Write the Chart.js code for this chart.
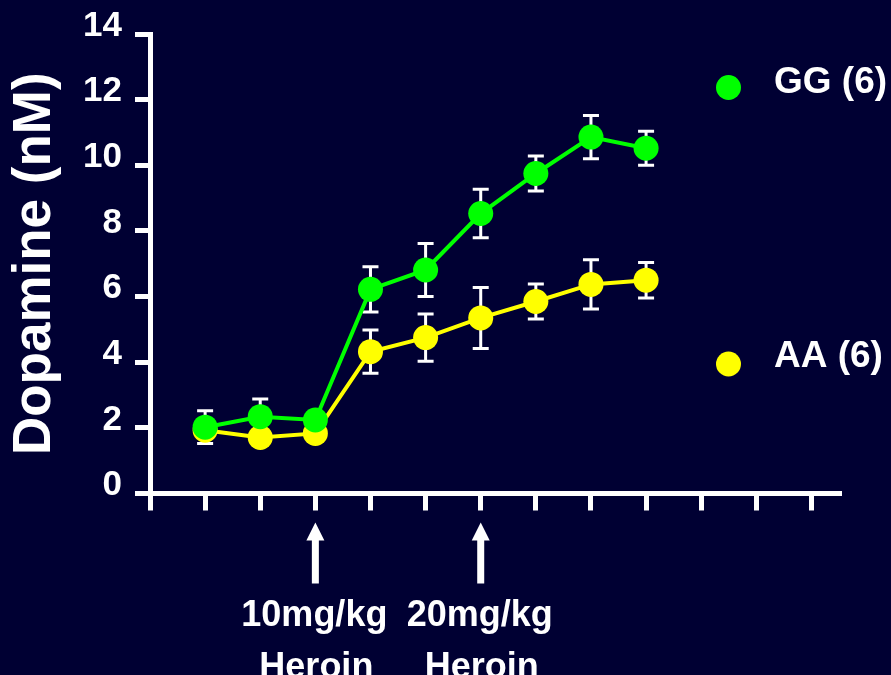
<!DOCTYPE html>
<html>
<head>
<meta charset="utf-8">
<title>Dopamine (nM)</title>
<script src="https://cdn.jsdelivr.net/npm/chart.js@4"></script>
<style>
  html, body { margin: 0; padding: 0; background: #000033; overflow: hidden; }
  canvas { display: block; }
</style>
</head>
<body>
<canvas id="chart" width="891" height="675"></canvas>
<script>
// Sample number along the x axis (one microdialysis sample per tick)
const samples = [1, 2, 3, 4, 5, 6, 7, 8, 9];

// Extracellular dopamine, mean and SEM per sample, for each genotype
const ggMean = [2.02, 2.34, 2.24, 6.22, 6.81, 8.53, 9.75, 10.86, 10.52];
const ggSem  = [0.50, 0.54, 0.20, 0.69, 0.81, 0.74, 0.53, 0.66, 0.52];
const aaMean = [1.93, 1.71, 1.83, 4.32, 4.75, 5.35, 5.85, 6.37, 6.50];
const aaSem  = [0.20, 0.20, 0.20, 0.66, 0.72, 0.93, 0.53, 0.75, 0.54];

const groupNames = ['GG (6)', 'AA (6)'];

// Heroin injections: sample at which each dose was given, and its caption
const doseAt = [3, 6];
const doseLabels = [['10mg/kg', 'Heroin'], ['20mg/kg', 'Heroin']];

const FONT = "'Liberation Sans', Arial, Helvetica, sans-serif";
const WHITE = '#ffffff';
const GREEN = '#00ff00';
const YELLOW = '#ffff00';

Chart.defaults.font.family = FONT;

const toPoints = (means) => samples.map((s, i) => ({ x: s, y: means[i] }));

// SEM whiskers, drawn underneath the markers
const errorBars = {
  id: 'errorBars',
  beforeDatasetsDraw(chart) {
    const { ctx, scales: { x, y } } = chart;
    ctx.save();
    ctx.strokeStyle = WHITE;
    ctx.lineWidth = 3;
    ctx.lineCap = 'butt';
    const cap = 8;
    chart.data.datasets.slice().reverse().forEach(ds => {
      ds.data.forEach((p, i) => {
        const e = ds.errors[i];
        const px = x.getPixelForValue(p.x);
        const hi = y.getPixelForValue(p.y + e);
        const lo = y.getPixelForValue(p.y - e);
        ctx.beginPath();
        ctx.moveTo(px, hi); ctx.lineTo(px, lo);
        ctx.moveTo(px - cap, hi); ctx.lineTo(px + cap, hi);
        ctx.moveTo(px - cap, lo); ctx.lineTo(px + cap, lo);
        ctx.stroke();
      });
    });
    ctx.restore();
  }
};

// Injection arrows and captions under the x axis
const doseMarks = {
  id: 'doseMarks',
  afterDraw(chart) {
    const { ctx, chartArea, scales: { x } } = chart;
    ctx.save();
    ctx.fillStyle = WHITE;
    const tip = chartArea.bottom + 29;
    const headH = 18, headW = 9, shaftW = 3.5, shaftEnd = chartArea.bottom + 90;
    doseAt.forEach((d, i) => {
      const px = x.getPixelForValue(d);
      ctx.beginPath();
      ctx.moveTo(px, tip);
      ctx.lineTo(px + headW, tip + headH);
      ctx.lineTo(px + shaftW, tip + headH);
      ctx.lineTo(px + shaftW, shaftEnd);
      ctx.lineTo(px - shaftW, shaftEnd);
      ctx.lineTo(px - shaftW, tip + headH);
      ctx.lineTo(px - headW, tip + headH);
      ctx.closePath();
      ctx.fill();

      ctx.font = 'bold 36px ' + FONT;
      ctx.textAlign = 'center';
      ctx.textBaseline = 'alphabetic';
      ctx.fillText(doseLabels[i][0], px - 1, 626);
      ctx.fillText(doseLabels[i][1], px + 1, 678);
    });
    ctx.restore();
  }
};

// Group key on the right-hand side
const groupKey = {
  id: 'groupKey',
  afterDraw(chart) {
    const { ctx } = chart;
    const rows = [{ cy: 87.5, base: 93 }, { cy: 364, base: 366.5 }];
    ctx.save();
    chart.data.datasets.forEach((ds, i) => {
      ctx.fillStyle = ds.pointBackgroundColor;
      ctx.beginPath();
      ctx.arc(728.5, rows[i].cy, 12.5, 0, Math.PI * 2);
      ctx.fill();
      ctx.fillStyle = WHITE;
      ctx.font = 'bold 37px ' + FONT;
      ctx.textAlign = 'left';
      ctx.textBaseline = 'alphabetic';
      ctx.fillText(ds.label, 774, rows[i].base);
    });
    ctx.restore();
  }
};

const seriesStyle = (color) => ({
  borderColor: color,
  backgroundColor: color,
  pointBackgroundColor: color,
  pointBorderColor: color,
  pointBorderWidth: 0,
  pointRadius: 12.5,
  borderWidth: 4,
  tension: 0,
  fill: false
});

new Chart(document.getElementById('chart'), {
  type: 'line',
  data: {
    datasets: [
      Object.assign({ label: groupNames[0], data: toPoints(ggMean), errors: ggSem }, seriesStyle(GREEN)),
      Object.assign({ label: groupNames[1], data: toPoints(aaMean), errors: aaSem }, seriesStyle(YELLOW))
    ]
  },
  options: {
    responsive: false,
    animation: false,
    events: [],
    layout: { padding: { top: 34, right: 52, left: 0, bottom: 0 } },
    plugins: {
      legend: { display: false },
      tooltip: { enabled: false }
    },
    scales: {
      x: {
        type: 'linear',
        min: 0,
        max: 12.5,
        afterFit(scale) { scale.height = 181.5; },
        border: { display: true, color: WHITE, width: 5 },
        grid: {
          display: true, drawOnChartArea: false, drawTicks: true,
          tickLength: 17, tickWidth: 5, tickColor: WHITE, color: WHITE, lineWidth: 5
        },
        ticks: { display: false, stepSize: 1, includeBounds: false }
      },
      y: {
        type: 'linear',
        min: 0,
        max: 14,
        afterFit(scale) { scale.width = 150; },
        border: { display: true, color: WHITE, width: 5 },
        grid: {
          display: true, drawOnChartArea: false, drawTicks: true,
          tickLength: 15, tickWidth: 5, tickColor: WHITE, color: WHITE, lineWidth: 5
        },
        ticks: {
          stepSize: 2,
          color: WHITE,
          font: { size: 35, weight: 'bold' },
          padding: 13,
          labelOffset: -8
        },
        title: {
          display: true,
          text: 'Dopamine (nM)',
          color: WHITE,
          font: { size: 53, weight: 'bold' },
          padding: { top: 4, bottom: 0 }
        }
      }
    }
  },
  plugins: [errorBars, doseMarks, groupKey]
});
</script>
</body>
</html>
